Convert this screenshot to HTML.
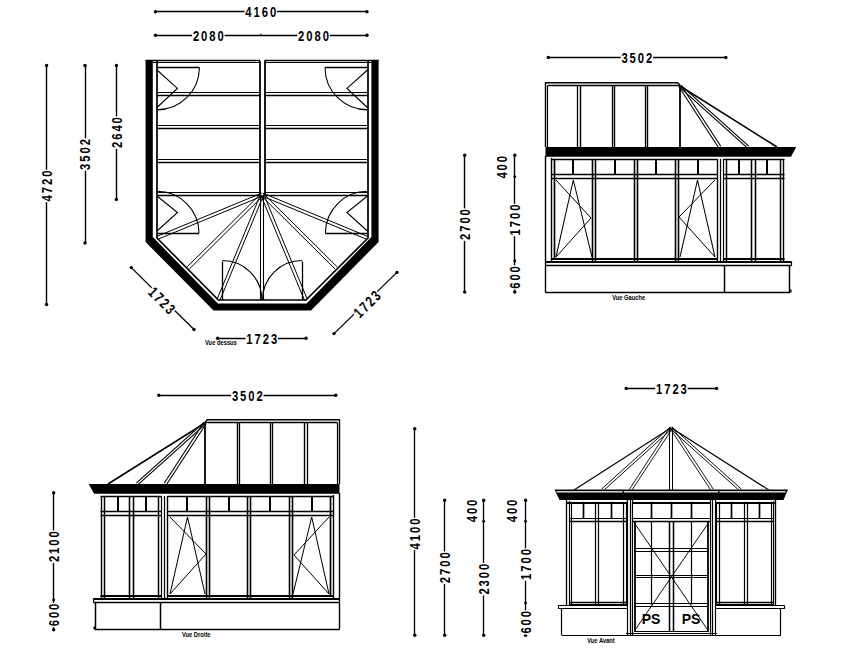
<!DOCTYPE html>
<html><head><meta charset="utf-8"><style>
html,body{margin:0;padding:0;background:#fff;width:850px;height:654px;overflow:hidden}
svg{display:block}
</style></head><body>
<svg width="850" height="654" viewBox="0 0 850 654" stroke="#000" fill="none" stroke-linecap="butt">
<rect x="0" y="0" width="850" height="654" fill="#fff" stroke="none"/>
<polygon points="145.6,60.1 145.6,242 213.5,310.5 311,310.5 378.6,242 378.6,60.1 371.4,60.1 371.4,237.1 306.6,303.5 217.9,303.5 152.8,237.1 152.8,60.1" fill="#000" stroke="none"/>
<polyline points="157,61 157,238 218.4,300 306,300 368,238 368,61" stroke-width="1.7" fill="none"/>
<line x1="145.6" y1="60.5" x2="260" y2="60.5" stroke-width="1.3"/>
<line x1="153" y1="62.5" x2="260" y2="62.5" stroke-width="1.2"/>
<line x1="264.4" y1="60.5" x2="378.6" y2="60.5" stroke-width="1.3"/>
<line x1="264.4" y1="62.5" x2="371.4" y2="62.5" stroke-width="1.2"/>
<line x1="157" y1="92.5" x2="260" y2="92.5" stroke-width="1.2"/>
<line x1="157" y1="95.5" x2="260" y2="95.5" stroke-width="1.3"/>
<line x1="264.4" y1="92.5" x2="367.4" y2="92.5" stroke-width="1.2"/>
<line x1="264.4" y1="95.5" x2="367.4" y2="95.5" stroke-width="1.3"/>
<line x1="157" y1="125.5" x2="260" y2="125.5" stroke-width="1.2"/>
<line x1="157" y1="128.5" x2="260" y2="128.5" stroke-width="1.3"/>
<line x1="264.4" y1="125.5" x2="367.4" y2="125.5" stroke-width="1.2"/>
<line x1="264.4" y1="128.5" x2="367.4" y2="128.5" stroke-width="1.3"/>
<line x1="157" y1="159.5" x2="260" y2="159.5" stroke-width="1.2"/>
<line x1="157" y1="162.5" x2="260" y2="162.5" stroke-width="1.3"/>
<line x1="264.4" y1="159.5" x2="367.4" y2="159.5" stroke-width="1.2"/>
<line x1="264.4" y1="162.5" x2="367.4" y2="162.5" stroke-width="1.3"/>
<line x1="157" y1="192.5" x2="260" y2="192.5" stroke-width="1.2"/>
<line x1="157" y1="195.5" x2="260" y2="195.5" stroke-width="1.3"/>
<line x1="264.4" y1="192.5" x2="367.4" y2="192.5" stroke-width="1.2"/>
<line x1="264.4" y1="195.5" x2="367.4" y2="195.5" stroke-width="1.3"/>
<line x1="260" y1="61" x2="260" y2="194.3" stroke-width="1.8"/>
<line x1="265" y1="61" x2="265" y2="194.3" stroke-width="1.8"/>
<line x1="261.63" y1="193.11" x2="156.43" y2="236.61" stroke-width="1"/>
<line x1="262.77" y1="195.89" x2="157.57" y2="239.39" stroke-width="1"/>
<line x1="261.63" y1="195.89" x2="366.83" y2="239.39" stroke-width="1"/>
<line x1="262.77" y1="193.11" x2="367.97" y2="236.61" stroke-width="1"/>
<line x1="261.14" y1="193.44" x2="187.14" y2="266.94" stroke-width="1"/>
<line x1="263.26" y1="195.56" x2="189.26" y2="269.06" stroke-width="1"/>
<line x1="261.14" y1="195.56" x2="335.14" y2="269.06" stroke-width="1"/>
<line x1="263.26" y1="193.44" x2="337.26" y2="266.94" stroke-width="1"/>
<line x1="260.81" y1="193.92" x2="217.01" y2="299.42" stroke-width="1"/>
<line x1="263.59" y1="195.08" x2="219.79" y2="300.58" stroke-width="1"/>
<line x1="260.81" y1="195.08" x2="304.61" y2="300.58" stroke-width="1"/>
<line x1="263.59" y1="193.92" x2="307.39" y2="299.42" stroke-width="1"/>
<line x1="260.5" y1="194.5" x2="260.5" y2="300" stroke-width="1.1"/>
<line x1="263.5" y1="194.5" x2="263.5" y2="300" stroke-width="1.1"/>
<line x1="157" y1="67.5" x2="199.4" y2="67.5" stroke-width="1.7"/>
<path d="M199.4,67.5 A42.4,42.4 0 0 1 157,109.9" stroke-width="1.1" fill="none"/>
<polyline points="157,70 177.4,88.4 157,107.5" stroke-width="1.1" fill="none"/>
<line x1="157" y1="233.5" x2="199" y2="233.5" stroke-width="1.3"/>
<path d="M199,233.3 A42,42 0 0 0 157,191.3" stroke-width="1.1" fill="none"/>
<polyline points="157,196 177.5,212.5 157,231" stroke-width="1.1" fill="none"/>
<line x1="222.5" y1="261.5" x2="222.5" y2="300" stroke-width="1.3"/>
<path d="M222.4,260.5 A39.5,39.5 0 0 1 261.9,300" stroke-width="1.1" fill="none"/>
<line x1="367.4" y1="67.5" x2="325" y2="67.5" stroke-width="1.7"/>
<path d="M325,67.5 A42.4,42.4 0 0 0 367.4,109.9" stroke-width="1.1" fill="none"/>
<polyline points="367.4,70 347,88.4 367.4,107.5" stroke-width="1.1" fill="none"/>
<line x1="367.4" y1="233.5" x2="325.4" y2="233.5" stroke-width="1.3"/>
<path d="M325.4,233.3 A42,42 0 0 1 367.4,191.3" stroke-width="1.1" fill="none"/>
<polyline points="367.4,196 346.9,212.5 367.4,231" stroke-width="1.1" fill="none"/>
<line x1="302.5" y1="261.5" x2="302.5" y2="300" stroke-width="1.3"/>
<path d="M302,260.5 A39.5,39.5 0 0 0 262.5,300" stroke-width="1.1" fill="none"/>
<line x1="155.5" y1="11.5" x2="367" y2="11.5" stroke-width="1.5"/>
<circle cx="155.5" cy="11.7" r="1.7" fill="#000" stroke="none"/>
<circle cx="367" cy="11.7" r="1.7" fill="#000" stroke="none"/>
<g transform="translate(260.7 11.7)">
<rect x="-16.23" y="-6" width="32.47" height="12" fill="#fff" stroke="none"/>
<text x="1.3" y="5.32" transform="scale(0.75 1)" font-family="Liberation Sans" font-size="15" font-weight="bold" text-anchor="middle" fill="#000" stroke="none" letter-spacing="2.6">4160</text>
</g>
<line x1="155.5" y1="35.5" x2="367" y2="35.5" stroke-width="1.5"/>
<circle cx="155.5" cy="35.2" r="1.7" fill="#000" stroke="none"/>
<circle cx="367" cy="35.2" r="1.7" fill="#000" stroke="none"/>
<circle cx="261" cy="35.2" r="1.1" fill="#000" stroke="none"/>
<g transform="translate(208.3 35.2)">
<rect x="-16.23" y="-6" width="32.47" height="12" fill="#fff" stroke="none"/>
<text x="1.3" y="5.32" transform="scale(0.75 1)" font-family="Liberation Sans" font-size="15" font-weight="bold" text-anchor="middle" fill="#000" stroke="none" letter-spacing="2.6">2080</text>
</g>
<g transform="translate(313.5 35.2)">
<rect x="-16.23" y="-6" width="32.47" height="12" fill="#fff" stroke="none"/>
<text x="1.3" y="5.32" transform="scale(0.75 1)" font-family="Liberation Sans" font-size="15" font-weight="bold" text-anchor="middle" fill="#000" stroke="none" letter-spacing="2.6">2080</text>
</g>
<line x1="46.5" y1="65.5" x2="46.5" y2="304.5" stroke-width="1.4"/>
<circle cx="46.6" cy="65.5" r="1.7" fill="#000" stroke="none"/>
<circle cx="46.6" cy="304.5" r="1.7" fill="#000" stroke="none"/>
<g transform="translate(46.6 186) rotate(-90)">
<rect x="-16.23" y="-6" width="32.47" height="12" fill="#fff" stroke="none"/>
<text x="1.3" y="5.32" transform="scale(0.75 1)" font-family="Liberation Sans" font-size="15" font-weight="bold" text-anchor="middle" fill="#000" stroke="none" letter-spacing="2.6">4720</text>
</g>
<line x1="85.5" y1="65.5" x2="85.5" y2="243" stroke-width="1.4"/>
<circle cx="85" cy="65.5" r="1.7" fill="#000" stroke="none"/>
<circle cx="85" cy="243" r="1.7" fill="#000" stroke="none"/>
<g transform="translate(85 154.5) rotate(-90)">
<rect x="-16.23" y="-6" width="32.47" height="12" fill="#fff" stroke="none"/>
<text x="1.3" y="5.32" transform="scale(0.75 1)" font-family="Liberation Sans" font-size="15" font-weight="bold" text-anchor="middle" fill="#000" stroke="none" letter-spacing="2.6">3502</text>
</g>
<line x1="116.5" y1="65.5" x2="116.5" y2="199.4" stroke-width="1.4"/>
<circle cx="116.4" cy="65.5" r="1.7" fill="#000" stroke="none"/>
<circle cx="116.4" cy="199.4" r="1.7" fill="#000" stroke="none"/>
<g transform="translate(116.4 132.6) rotate(-90)">
<rect x="-16.23" y="-6" width="32.47" height="12" fill="#fff" stroke="none"/>
<text x="1.3" y="5.32" transform="scale(0.75 1)" font-family="Liberation Sans" font-size="15" font-weight="bold" text-anchor="middle" fill="#000" stroke="none" letter-spacing="2.6">2640</text>
</g>
<line x1="131.3" y1="267.6" x2="194" y2="329.5" stroke-width="1.3"/>
<circle cx="131.3" cy="267.6" r="1.7" fill="#000" stroke="none"/>
<circle cx="194" cy="329.5" r="1.7" fill="#000" stroke="none"/>
<g transform="translate(161.8 300.4) rotate(45)">
<rect x="-16.23" y="-6" width="32.47" height="12" fill="#fff" stroke="none"/>
<text x="1.3" y="5.32" transform="scale(0.75 1)" font-family="Liberation Sans" font-size="15" font-weight="bold" text-anchor="middle" fill="#000" stroke="none" letter-spacing="2.6">1723</text>
</g>
<line x1="334" y1="333.6" x2="397" y2="272.4" stroke-width="1.3"/>
<circle cx="334" cy="333.6" r="1.7" fill="#000" stroke="none"/>
<circle cx="397" cy="272.4" r="1.7" fill="#000" stroke="none"/>
<g transform="translate(367 304.2) rotate(-45)">
<rect x="-16.23" y="-6" width="32.47" height="12" fill="#fff" stroke="none"/>
<text x="1.3" y="5.32" transform="scale(0.75 1)" font-family="Liberation Sans" font-size="15" font-weight="bold" text-anchor="middle" fill="#000" stroke="none" letter-spacing="2.6">1723</text>
</g>
<line x1="217.6" y1="338.5" x2="306" y2="338.5" stroke-width="1.5"/>
<circle cx="217.6" cy="338.2" r="1.7" fill="#000" stroke="none"/>
<circle cx="306" cy="338.2" r="1.7" fill="#000" stroke="none"/>
<g transform="translate(261.7 338.2)">
<rect x="-16.23" y="-6" width="32.47" height="12" fill="#fff" stroke="none"/>
<text x="1.3" y="5.32" transform="scale(0.75 1)" font-family="Liberation Sans" font-size="15" font-weight="bold" text-anchor="middle" fill="#000" stroke="none" letter-spacing="2.6">1723</text>
</g>
<g transform="translate(220.9 342.7)">
<text x="0" y="2.41" transform="scale(0.85 1)" font-family="Liberation Sans" font-size="6.8" font-weight="bold" text-anchor="middle" fill="#000" stroke="none">Vue dessus</text>
</g>
<polyline points="545.5,147 545.5,82.7 677.5,82.7 680,85" stroke-width="1.4" fill="none"/>
<line x1="547.5" y1="85.5" x2="680" y2="85.5" stroke-width="1.3"/>
<line x1="547.5" y1="85.8" x2="547.5" y2="147" stroke-width="1.2"/>
<line x1="577.5" y1="85.8" x2="577.5" y2="147" stroke-width="1.3"/>
<line x1="580.5" y1="85.8" x2="580.5" y2="147" stroke-width="1.4"/>
<line x1="612.5" y1="85.8" x2="612.5" y2="147" stroke-width="1.3"/>
<line x1="614.5" y1="85.8" x2="614.5" y2="147" stroke-width="1.4"/>
<line x1="645.5" y1="85.8" x2="645.5" y2="147" stroke-width="1.3"/>
<line x1="647.5" y1="85.8" x2="647.5" y2="147" stroke-width="1.4"/>
<line x1="680" y1="85.8" x2="680" y2="147" stroke-width="1.8"/>
<line x1="678.91" y1="86.71" x2="718.61" y2="147.71" stroke-width="1.1"/>
<line x1="681.09" y1="85.29" x2="720.79" y2="146.29" stroke-width="1.1"/>
<line x1="679.27" y1="86.82" x2="747.27" y2="147.82" stroke-width="1.15"/>
<line x1="680.73" y1="85.18" x2="748.73" y2="146.18" stroke-width="1.15"/>
<line x1="680" y1="86" x2="777" y2="147" stroke-width="1.5"/>
<polygon points="545.5,147 796.2,147 791,156.7 545.5,156.7" fill="#000" stroke="none"/>
<line x1="545.5" y1="156" x2="545.5" y2="292.4" stroke-width="1.4"/>
<line x1="551.5" y1="158" x2="551.5" y2="262" stroke-width="1.4"/>
<line x1="551.5" y1="159.5" x2="717.5" y2="159.5" stroke-width="1.5"/>
<line x1="551.5" y1="174.5" x2="717.5" y2="174.5" stroke-width="1.4"/>
<line x1="551.5" y1="178.5" x2="717.5" y2="178.5" stroke-width="1.6"/>
<line x1="551.5" y1="259" x2="717.5" y2="259" stroke-width="1.9"/>
<line x1="723.5" y1="159.5" x2="784.5" y2="159.5" stroke-width="1.5"/>
<line x1="723.5" y1="174.5" x2="784.5" y2="174.5" stroke-width="1.4"/>
<line x1="723.5" y1="178.5" x2="784.5" y2="178.5" stroke-width="1.6"/>
<line x1="723.5" y1="259" x2="784.5" y2="259" stroke-width="1.9"/>
<line x1="554.5" y1="159" x2="554.5" y2="260" stroke-width="1.7"/>
<line x1="592.5" y1="159" x2="592.5" y2="261" stroke-width="1.6"/>
<line x1="595.5" y1="159" x2="595.5" y2="261" stroke-width="1.6"/>
<line x1="634.5" y1="159" x2="634.5" y2="261" stroke-width="1.6"/>
<line x1="637.5" y1="159" x2="637.5" y2="261" stroke-width="1.6"/>
<line x1="675.5" y1="159" x2="675.5" y2="261" stroke-width="1.6"/>
<line x1="678.5" y1="159" x2="678.5" y2="261" stroke-width="1.6"/>
<line x1="717.5" y1="159" x2="717.5" y2="261" stroke-width="1.4"/>
<line x1="720.5" y1="159" x2="720.5" y2="261" stroke-width="1.2"/>
<line x1="723.5" y1="159" x2="723.5" y2="261" stroke-width="1.2"/>
<line x1="726.5" y1="159" x2="726.5" y2="261" stroke-width="1.5"/>
<line x1="751.5" y1="159" x2="751.5" y2="261" stroke-width="1.6"/>
<line x1="755.5" y1="159" x2="755.5" y2="261" stroke-width="1.6"/>
<line x1="780.5" y1="159" x2="780.5" y2="261" stroke-width="1.5"/>
<line x1="783.5" y1="159" x2="783.5" y2="261" stroke-width="1.4"/>
<line x1="573" y1="159" x2="573" y2="174.1" stroke-width="2"/>
<line x1="615" y1="159" x2="615" y2="174.1" stroke-width="2"/>
<line x1="656" y1="159" x2="656" y2="174.1" stroke-width="2"/>
<line x1="698" y1="159" x2="698" y2="174.1" stroke-width="2"/>
<line x1="739" y1="159" x2="739" y2="174.1" stroke-width="2"/>
<line x1="767" y1="159" x2="767" y2="174.1" stroke-width="2"/>
<polyline points="556,180 591,218 556,257" stroke-width="1" fill="none"/>
<polyline points="556,257 573.3,180 592,257" stroke-width="1.05" fill="none"/>
<polyline points="715,180 679,217 715,257" stroke-width="1" fill="none"/>
<polyline points="680,257 697.5,180 715,257" stroke-width="1.05" fill="none"/>
<line x1="545.5" y1="262" x2="791.5" y2="262" stroke-width="2"/>
<line x1="545.5" y1="265.5" x2="791.5" y2="265.5" stroke-width="1.5"/>
<line x1="791.5" y1="261.5" x2="791.5" y2="265.5" stroke-width="1.2"/>
<line x1="724.5" y1="265.2" x2="724.5" y2="292.4" stroke-width="1.5"/>
<line x1="789.5" y1="265.2" x2="789.5" y2="292.4" stroke-width="1.5"/>
<line x1="545.5" y1="292.5" x2="790" y2="292.5" stroke-width="1.6"/>
<rect x="789" y="289.5" width="2.5" height="3" fill="#000" stroke="none"/>
<line x1="548.3" y1="57.5" x2="725.8" y2="57.5" stroke-width="1.5"/>
<circle cx="548.3" cy="57.5" r="1.7" fill="#000" stroke="none"/>
<circle cx="725.8" cy="57.5" r="1.7" fill="#000" stroke="none"/>
<g transform="translate(636.8 57.5)">
<rect x="-16.23" y="-6" width="32.47" height="12" fill="#fff" stroke="none"/>
<text x="1.3" y="5.32" transform="scale(0.75 1)" font-family="Liberation Sans" font-size="15" font-weight="bold" text-anchor="middle" fill="#000" stroke="none" letter-spacing="2.6">3502</text>
</g>
<line x1="464.5" y1="155.2" x2="464.5" y2="292" stroke-width="1.4"/>
<circle cx="464.7" cy="155.2" r="1.7" fill="#000" stroke="none"/>
<circle cx="464.7" cy="292" r="1.7" fill="#000" stroke="none"/>
<g transform="translate(464.7 224.6) rotate(-90)">
<rect x="-16.23" y="-6" width="32.47" height="12" fill="#fff" stroke="none"/>
<text x="1.3" y="5.32" transform="scale(0.75 1)" font-family="Liberation Sans" font-size="15" font-weight="bold" text-anchor="middle" fill="#000" stroke="none" letter-spacing="2.6">2700</text>
</g>
<line x1="514.5" y1="155.2" x2="514.5" y2="292" stroke-width="1.4"/>
<circle cx="514.8" cy="155.2" r="1.7" fill="#000" stroke="none"/>
<circle cx="514.8" cy="292" r="1.7" fill="#000" stroke="none"/>
<circle cx="514.8" cy="176.7" r="1.4" fill="#000" stroke="none"/>
<circle cx="514.8" cy="261" r="1.4" fill="#000" stroke="none"/>
<g transform="translate(501.3 167.3) rotate(-90)">
<text x="1.3" y="5.32" transform="scale(0.75 1)" font-family="Liberation Sans" font-size="15" font-weight="bold" text-anchor="middle" fill="#000" stroke="none" letter-spacing="2.6">400</text>
</g>
<g transform="translate(514.8 220) rotate(-90)">
<rect x="-16.23" y="-6" width="32.47" height="12" fill="#fff" stroke="none"/>
<text x="1.3" y="5.32" transform="scale(0.75 1)" font-family="Liberation Sans" font-size="15" font-weight="bold" text-anchor="middle" fill="#000" stroke="none" letter-spacing="2.6">1700</text>
</g>
<g transform="translate(514.8 277.5) rotate(-90)">
<rect x="-12.13" y="-6" width="24.27" height="12" fill="#fff" stroke="none"/>
<text x="1.3" y="5.32" transform="scale(0.75 1)" font-family="Liberation Sans" font-size="15" font-weight="bold" text-anchor="middle" fill="#000" stroke="none" letter-spacing="2.6">600</text>
</g>
<g transform="translate(628.7 297.6)">
<text x="0" y="2.41" transform="scale(0.85 1)" font-family="Liberation Sans" font-size="6.8" font-weight="bold" text-anchor="middle" fill="#000" stroke="none">Vue Gauche</text>
</g>
<g transform="translate(885 337) scale(-1 1)">
<polyline points="545.5,147 545.5,82.7 677.5,82.7 680,85" stroke-width="1.4" fill="none"/>
<line x1="547.5" y1="85.5" x2="680" y2="85.5" stroke-width="1.3"/>
<line x1="547.5" y1="85.8" x2="547.5" y2="147" stroke-width="1.2"/>
<line x1="577.5" y1="85.8" x2="577.5" y2="147" stroke-width="1.3"/>
<line x1="580.5" y1="85.8" x2="580.5" y2="147" stroke-width="1.4"/>
<line x1="612.5" y1="85.8" x2="612.5" y2="147" stroke-width="1.3"/>
<line x1="614.5" y1="85.8" x2="614.5" y2="147" stroke-width="1.4"/>
<line x1="645.5" y1="85.8" x2="645.5" y2="147" stroke-width="1.3"/>
<line x1="647.5" y1="85.8" x2="647.5" y2="147" stroke-width="1.4"/>
<line x1="680" y1="85.8" x2="680" y2="147" stroke-width="1.8"/>
<line x1="678.91" y1="86.71" x2="718.61" y2="147.71" stroke-width="1.1"/>
<line x1="681.09" y1="85.29" x2="720.79" y2="146.29" stroke-width="1.1"/>
<line x1="679.27" y1="86.82" x2="747.27" y2="147.82" stroke-width="1.15"/>
<line x1="680.73" y1="85.18" x2="748.73" y2="146.18" stroke-width="1.15"/>
<line x1="680" y1="86" x2="777" y2="147" stroke-width="1.5"/>
<polygon points="545.5,147 796.2,147 791,156.7 545.5,156.7" fill="#000" stroke="none"/>
<line x1="545.5" y1="156" x2="545.5" y2="292.4" stroke-width="1.4"/>
<line x1="551.5" y1="158" x2="551.5" y2="262" stroke-width="1.4"/>
<line x1="551.5" y1="159.5" x2="717.5" y2="159.5" stroke-width="1.5"/>
<line x1="551.5" y1="174.5" x2="717.5" y2="174.5" stroke-width="1.4"/>
<line x1="551.5" y1="178.5" x2="717.5" y2="178.5" stroke-width="1.6"/>
<line x1="551.5" y1="259" x2="717.5" y2="259" stroke-width="1.9"/>
<line x1="723.5" y1="159.5" x2="784.5" y2="159.5" stroke-width="1.5"/>
<line x1="723.5" y1="174.5" x2="784.5" y2="174.5" stroke-width="1.4"/>
<line x1="723.5" y1="178.5" x2="784.5" y2="178.5" stroke-width="1.6"/>
<line x1="723.5" y1="259" x2="784.5" y2="259" stroke-width="1.9"/>
<line x1="554.5" y1="159" x2="554.5" y2="260" stroke-width="1.7"/>
<line x1="592.5" y1="159" x2="592.5" y2="261" stroke-width="1.6"/>
<line x1="595.5" y1="159" x2="595.5" y2="261" stroke-width="1.6"/>
<line x1="634.5" y1="159" x2="634.5" y2="261" stroke-width="1.6"/>
<line x1="637.5" y1="159" x2="637.5" y2="261" stroke-width="1.6"/>
<line x1="675.5" y1="159" x2="675.5" y2="261" stroke-width="1.6"/>
<line x1="678.5" y1="159" x2="678.5" y2="261" stroke-width="1.6"/>
<line x1="717.5" y1="159" x2="717.5" y2="261" stroke-width="1.4"/>
<line x1="720.5" y1="159" x2="720.5" y2="261" stroke-width="1.2"/>
<line x1="723.5" y1="159" x2="723.5" y2="261" stroke-width="1.2"/>
<line x1="726.5" y1="159" x2="726.5" y2="261" stroke-width="1.5"/>
<line x1="751.5" y1="159" x2="751.5" y2="261" stroke-width="1.6"/>
<line x1="755.5" y1="159" x2="755.5" y2="261" stroke-width="1.6"/>
<line x1="780.5" y1="159" x2="780.5" y2="261" stroke-width="1.5"/>
<line x1="783.5" y1="159" x2="783.5" y2="261" stroke-width="1.4"/>
<line x1="573" y1="159" x2="573" y2="174.1" stroke-width="2"/>
<line x1="615" y1="159" x2="615" y2="174.1" stroke-width="2"/>
<line x1="656" y1="159" x2="656" y2="174.1" stroke-width="2"/>
<line x1="698" y1="159" x2="698" y2="174.1" stroke-width="2"/>
<line x1="739" y1="159" x2="739" y2="174.1" stroke-width="2"/>
<line x1="767" y1="159" x2="767" y2="174.1" stroke-width="2"/>
<polyline points="556,180 591,218 556,257" stroke-width="1" fill="none"/>
<polyline points="556,257 573.3,180 592,257" stroke-width="1.05" fill="none"/>
<polyline points="715,180 679,217 715,257" stroke-width="1" fill="none"/>
<polyline points="680,257 697.5,180 715,257" stroke-width="1.05" fill="none"/>
<line x1="545.5" y1="262" x2="791.5" y2="262" stroke-width="2"/>
<line x1="545.5" y1="265.5" x2="791.5" y2="265.5" stroke-width="1.5"/>
<line x1="791.5" y1="261.5" x2="791.5" y2="265.5" stroke-width="1.2"/>
<line x1="724.5" y1="265.2" x2="724.5" y2="292.4" stroke-width="1.5"/>
<line x1="789.5" y1="265.2" x2="789.5" y2="292.4" stroke-width="1.5"/>
<line x1="545.5" y1="292.5" x2="790" y2="292.5" stroke-width="1.6"/>
<rect x="789" y="289.5" width="2.5" height="3" fill="#000" stroke="none"/>
</g>
<line x1="158.8" y1="395.5" x2="335.8" y2="395.5" stroke-width="1.5"/>
<circle cx="158.8" cy="395.3" r="1.7" fill="#000" stroke="none"/>
<circle cx="335.8" cy="395.3" r="1.7" fill="#000" stroke="none"/>
<g transform="translate(247.3 395.3)">
<rect x="-16.23" y="-6" width="32.47" height="12" fill="#fff" stroke="none"/>
<text x="1.3" y="5.32" transform="scale(0.75 1)" font-family="Liberation Sans" font-size="15" font-weight="bold" text-anchor="middle" fill="#000" stroke="none" letter-spacing="2.6">3502</text>
</g>
<line x1="53.5" y1="492.7" x2="53.5" y2="629.7" stroke-width="1.4"/>
<circle cx="53.7" cy="492.7" r="1.7" fill="#000" stroke="none"/>
<circle cx="53.7" cy="629.7" r="1.7" fill="#000" stroke="none"/>
<circle cx="53.7" cy="599.9" r="1.4" fill="#000" stroke="none"/>
<g transform="translate(53.7 546.7) rotate(-90)">
<rect x="-16.23" y="-6" width="32.47" height="12" fill="#fff" stroke="none"/>
<text x="1.3" y="5.32" transform="scale(0.75 1)" font-family="Liberation Sans" font-size="15" font-weight="bold" text-anchor="middle" fill="#000" stroke="none" letter-spacing="2.6">2100</text>
</g>
<g transform="translate(53.7 615) rotate(-90)">
<rect x="-12.13" y="-6" width="24.27" height="12" fill="#fff" stroke="none"/>
<text x="1.3" y="5.32" transform="scale(0.75 1)" font-family="Liberation Sans" font-size="15" font-weight="bold" text-anchor="middle" fill="#000" stroke="none" letter-spacing="2.6">600</text>
</g>
<g transform="translate(196.2 634.8)">
<text x="0" y="2.41" transform="scale(0.85 1)" font-family="Liberation Sans" font-size="6.8" font-weight="bold" text-anchor="middle" fill="#000" stroke="none">Vue Droite</text>
</g>
<line x1="669.5" y1="428.8" x2="669.5" y2="490" stroke-width="1.04"/>
<line x1="672.5" y1="428.8" x2="672.5" y2="490" stroke-width="1.04"/>
<line x1="671.2" y1="427.8" x2="574" y2="490" stroke-width="1.19"/>
<line x1="671.2" y1="427.8" x2="768.8" y2="490" stroke-width="1.19"/>
<line x1="670.4" y1="426.91" x2="601.5" y2="489.11" stroke-width="0.95"/>
<line x1="672" y1="428.69" x2="603.1" y2="490.89" stroke-width="0.95"/>
<line x1="670.4" y1="428.69" x2="739.7" y2="490.89" stroke-width="0.95"/>
<line x1="672" y1="426.91" x2="741.3" y2="489.11" stroke-width="0.95"/>
<line x1="670.11" y1="427.09" x2="629.41" y2="489.29" stroke-width="0.9"/>
<line x1="672.29" y1="428.51" x2="631.59" y2="490.71" stroke-width="0.9"/>
<line x1="670.12" y1="428.52" x2="711.22" y2="490.72" stroke-width="0.9"/>
<line x1="672.28" y1="427.08" x2="713.38" y2="489.28" stroke-width="0.9"/>
<polygon points="554.5,489.6 788,489.6 783.5,500 559.5,500" fill="#000" stroke="none"/>
<rect x="556.5" y="491" width="229" height="1.6" fill="#ccc" stroke="none"/>
<rect x="622.6" y="490" width="1.2" height="3" fill="#000" stroke="none"/><rect x="718.2" y="490" width="1.2" height="3" fill="#000" stroke="none"/>
<line x1="566.5" y1="500" x2="566.5" y2="605.4" stroke-width="1.33"/>
<line x1="569.5" y1="501" x2="569.5" y2="604.5" stroke-width="1.14"/>
<line x1="567" y1="503" x2="627" y2="503" stroke-width="1.9"/>
<line x1="569" y1="518.5" x2="627" y2="518.5" stroke-width="1.23"/>
<line x1="569" y1="521.5" x2="627" y2="521.5" stroke-width="1.71"/>
<line x1="569" y1="602.5" x2="627" y2="602.5" stroke-width="1.42"/>
<line x1="569" y1="604.5" x2="627" y2="604.5" stroke-width="1.04"/>
<line x1="571.5" y1="501.8" x2="571.5" y2="604.6" stroke-width="1.14"/>
<line x1="595.5" y1="501.8" x2="595.5" y2="604.6" stroke-width="1.23"/>
<line x1="598.5" y1="501.8" x2="598.5" y2="604.6" stroke-width="1.23"/>
<line x1="623.5" y1="501.8" x2="623.5" y2="604.6" stroke-width="1.23"/>
<line x1="626.5" y1="501.8" x2="626.5" y2="604.6" stroke-width="1.14"/>
<line x1="583.5" y1="501.8" x2="583.5" y2="518" stroke-width="1.71"/>
<line x1="611.5" y1="501.8" x2="611.5" y2="518" stroke-width="1.71"/>
<line x1="558.4" y1="605.5" x2="627" y2="605.5" stroke-width="1.23"/>
<line x1="558.4" y1="608.5" x2="627" y2="608.5" stroke-width="1.23"/>
<line x1="558.5" y1="605.4" x2="558.5" y2="608.9" stroke-width="1.14"/>
<line x1="561.5" y1="608.9" x2="561.5" y2="635.3" stroke-width="1.23"/>
<line x1="561.9" y1="635.5" x2="627" y2="635.5" stroke-width="1.23"/>
<line x1="627.5" y1="500" x2="627.5" y2="635.3" stroke-width="1.14"/>
<line x1="630.5" y1="500" x2="630.5" y2="635.3" stroke-width="1.23"/>
<line x1="632.5" y1="500" x2="632.5" y2="635.3" stroke-width="1.14"/>
<line x1="635" y1="521.4" x2="635" y2="631.4" stroke-width="1.8"/>
<line x1="669.5" y1="521.4" x2="669.5" y2="631.4" stroke-width="1.52"/>
<line x1="651.5" y1="521.4" x2="651.5" y2="604.6" stroke-width="1.23"/>
<line x1="651.5" y1="501.8" x2="651.5" y2="518" stroke-width="1.71"/>
<line x1="775.5" y1="500" x2="775.5" y2="605.4" stroke-width="1.33"/>
<line x1="773.5" y1="501" x2="773.5" y2="604.5" stroke-width="1.14"/>
<line x1="775.8" y1="503" x2="715.8" y2="503" stroke-width="1.9"/>
<line x1="773.8" y1="518.5" x2="715.8" y2="518.5" stroke-width="1.23"/>
<line x1="773.8" y1="521.5" x2="715.8" y2="521.5" stroke-width="1.71"/>
<line x1="773.8" y1="602.5" x2="715.8" y2="602.5" stroke-width="1.42"/>
<line x1="773.8" y1="604.5" x2="715.8" y2="604.5" stroke-width="1.04"/>
<line x1="771.5" y1="501.8" x2="771.5" y2="604.6" stroke-width="1.14"/>
<line x1="747.5" y1="501.8" x2="747.5" y2="604.6" stroke-width="1.23"/>
<line x1="744.5" y1="501.8" x2="744.5" y2="604.6" stroke-width="1.23"/>
<line x1="719.5" y1="501.8" x2="719.5" y2="604.6" stroke-width="1.23"/>
<line x1="716.5" y1="501.8" x2="716.5" y2="604.6" stroke-width="1.14"/>
<line x1="759.5" y1="501.8" x2="759.5" y2="518" stroke-width="1.71"/>
<line x1="731.5" y1="501.8" x2="731.5" y2="518" stroke-width="1.71"/>
<line x1="784.4" y1="605.5" x2="715.8" y2="605.5" stroke-width="1.23"/>
<line x1="784.4" y1="608.5" x2="715.8" y2="608.5" stroke-width="1.23"/>
<line x1="784.5" y1="605.4" x2="784.5" y2="608.9" stroke-width="1.14"/>
<line x1="780.5" y1="608.9" x2="780.5" y2="635.3" stroke-width="1.23"/>
<line x1="780.9" y1="635.5" x2="715.8" y2="635.5" stroke-width="1.23"/>
<line x1="715.5" y1="500" x2="715.5" y2="635.3" stroke-width="1.14"/>
<line x1="712.5" y1="500" x2="712.5" y2="635.3" stroke-width="1.23"/>
<line x1="710.5" y1="500" x2="710.5" y2="635.3" stroke-width="1.14"/>
<line x1="708" y1="521.4" x2="708" y2="631.4" stroke-width="1.8"/>
<line x1="673.5" y1="521.4" x2="673.5" y2="631.4" stroke-width="1.52"/>
<line x1="691.5" y1="521.4" x2="691.5" y2="604.6" stroke-width="1.23"/>
<line x1="691.5" y1="501.8" x2="691.5" y2="518" stroke-width="1.71"/>
<line x1="632.6" y1="503" x2="710.2" y2="503" stroke-width="1.9"/>
<line x1="632.6" y1="518.5" x2="710.2" y2="518.5" stroke-width="1.23"/>
<line x1="632.6" y1="521.5" x2="710.2" y2="521.5" stroke-width="1.71"/>
<line x1="671.5" y1="501.8" x2="671.5" y2="518" stroke-width="1.71"/>
<line x1="634.2" y1="548.5" x2="708.6" y2="548.5" stroke-width="1.04"/>
<line x1="634.2" y1="551.5" x2="708.6" y2="551.5" stroke-width="1.14"/>
<line x1="634.2" y1="575.5" x2="708.6" y2="575.5" stroke-width="1.04"/>
<line x1="634.2" y1="577.5" x2="708.6" y2="577.5" stroke-width="1.14"/>
<line x1="634.2" y1="603.5" x2="708.6" y2="603.5" stroke-width="1.04"/>
<line x1="634.2" y1="606.5" x2="708.6" y2="606.5" stroke-width="1.14"/>
<line x1="634.2" y1="631.5" x2="708.6" y2="631.5" stroke-width="1.23"/>
<line x1="626" y1="633.5" x2="716.8" y2="633.5" stroke-width="1.14"/>
<line x1="626" y1="635.5" x2="716.8" y2="635.5" stroke-width="1.23"/>
<line x1="634.9" y1="523.7" x2="707.1" y2="629.1" stroke-width="0.95"/>
<line x1="707.9" y1="523.7" x2="635.7" y2="629.1" stroke-width="0.95"/>
<g transform="translate(651 619)">
<text x="0" y="4.96" transform="scale(1 1)" font-family="Liberation Sans" font-size="14" font-weight="bold" text-anchor="middle" fill="#000" stroke="none">PS</text>
</g>
<g transform="translate(691.1 619)">
<text x="0" y="4.96" transform="scale(1 1)" font-family="Liberation Sans" font-size="14" font-weight="bold" text-anchor="middle" fill="#000" stroke="none">PS</text>
</g>
<line x1="626.2" y1="388.5" x2="716.6" y2="388.5" stroke-width="1.42"/>
<circle cx="626.2" cy="388.4" r="1.7" fill="#000" stroke="none"/>
<circle cx="716.6" cy="388.4" r="1.7" fill="#000" stroke="none"/>
<g transform="translate(671.4 388.4)">
<rect x="-16.23" y="-6" width="32.47" height="12" fill="#fff" stroke="none"/>
<text x="1.3" y="5.32" transform="scale(0.75 1)" font-family="Liberation Sans" font-size="15" font-weight="bold" text-anchor="middle" fill="#000" stroke="none" letter-spacing="2.6">1723</text>
</g>
<line x1="414.5" y1="428.8" x2="414.5" y2="635.3" stroke-width="1.33"/>
<circle cx="414.8" cy="428.8" r="1.7" fill="#000" stroke="none"/>
<circle cx="414.8" cy="635.3" r="1.7" fill="#000" stroke="none"/>
<g transform="translate(414.8 534) rotate(-90)">
<rect x="-16.23" y="-6" width="32.47" height="12" fill="#fff" stroke="none"/>
<text x="1.3" y="5.32" transform="scale(0.75 1)" font-family="Liberation Sans" font-size="15" font-weight="bold" text-anchor="middle" fill="#000" stroke="none" letter-spacing="2.6">4100</text>
</g>
<line x1="444.5" y1="500.2" x2="444.5" y2="635.3" stroke-width="1.33"/>
<circle cx="444.7" cy="500.2" r="1.7" fill="#000" stroke="none"/>
<circle cx="444.7" cy="635.3" r="1.7" fill="#000" stroke="none"/>
<g transform="translate(444.7 567.8) rotate(-90)">
<rect x="-16.23" y="-6" width="32.47" height="12" fill="#fff" stroke="none"/>
<text x="1.3" y="5.32" transform="scale(0.75 1)" font-family="Liberation Sans" font-size="15" font-weight="bold" text-anchor="middle" fill="#000" stroke="none" letter-spacing="2.6">2700</text>
</g>
<line x1="483.5" y1="500.2" x2="483.5" y2="635.3" stroke-width="1.33"/>
<circle cx="483.7" cy="500.2" r="1.7" fill="#000" stroke="none"/>
<circle cx="483.7" cy="635.3" r="1.7" fill="#000" stroke="none"/>
<circle cx="483.7" cy="521.3" r="1.4" fill="#000" stroke="none"/>
<g transform="translate(471.4 511) rotate(-90)">
<text x="1.3" y="5.32" transform="scale(0.75 1)" font-family="Liberation Sans" font-size="15" font-weight="bold" text-anchor="middle" fill="#000" stroke="none" letter-spacing="2.6">400</text>
</g>
<g transform="translate(483.7 579.2) rotate(-90)">
<rect x="-16.23" y="-6" width="32.47" height="12" fill="#fff" stroke="none"/>
<text x="1.3" y="5.32" transform="scale(0.75 1)" font-family="Liberation Sans" font-size="15" font-weight="bold" text-anchor="middle" fill="#000" stroke="none" letter-spacing="2.6">2300</text>
</g>
<line x1="525.5" y1="500.2" x2="525.5" y2="635.3" stroke-width="1.33"/>
<circle cx="525.6" cy="500.2" r="1.7" fill="#000" stroke="none"/>
<circle cx="525.6" cy="635.3" r="1.7" fill="#000" stroke="none"/>
<circle cx="525.6" cy="521.3" r="1.4" fill="#000" stroke="none"/>
<circle cx="525.6" cy="602.9" r="1.4" fill="#000" stroke="none"/>
<g transform="translate(511.9 511) rotate(-90)">
<text x="1.3" y="5.32" transform="scale(0.75 1)" font-family="Liberation Sans" font-size="15" font-weight="bold" text-anchor="middle" fill="#000" stroke="none" letter-spacing="2.6">400</text>
</g>
<g transform="translate(525.6 564.5) rotate(-90)">
<rect x="-16.23" y="-6" width="32.47" height="12" fill="#fff" stroke="none"/>
<text x="1.3" y="5.32" transform="scale(0.75 1)" font-family="Liberation Sans" font-size="15" font-weight="bold" text-anchor="middle" fill="#000" stroke="none" letter-spacing="2.6">1700</text>
</g>
<g transform="translate(525.6 622.3) rotate(-90)">
<rect x="-12.13" y="-6" width="24.27" height="12" fill="#fff" stroke="none"/>
<text x="1.3" y="5.32" transform="scale(0.75 1)" font-family="Liberation Sans" font-size="15" font-weight="bold" text-anchor="middle" fill="#000" stroke="none" letter-spacing="2.6">600</text>
</g>
<g transform="translate(601 640.8)">
<text x="0" y="2.41" transform="scale(0.85 1)" font-family="Liberation Sans" font-size="6.8" font-weight="bold" text-anchor="middle" fill="#000" stroke="none">Vue Avant</text>
</g>
</svg></body></html>
